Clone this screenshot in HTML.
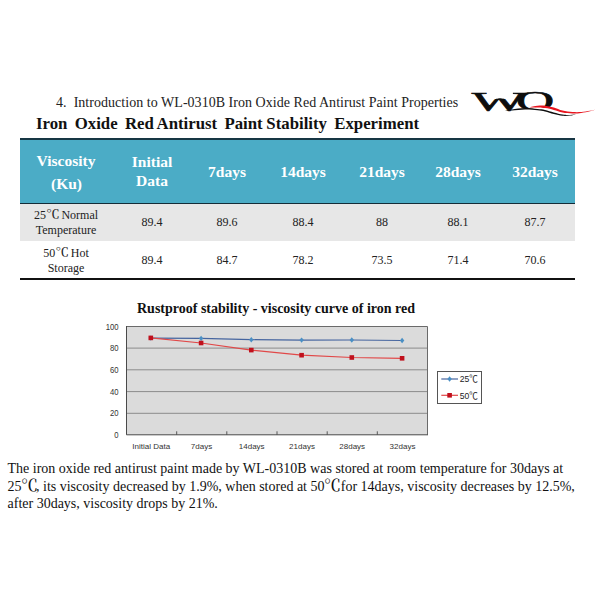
<!DOCTYPE html>
<html><head><meta charset="utf-8">
<style>
html,body{margin:0;padding:0;background:#fff;}
body{width:600px;height:600px;position:relative;overflow:hidden;font-family:"Liberation Serif","Noto Serif CJK SC",serif;color:#111;}
.abs{position:absolute;white-space:nowrap;}
.t1{left:56px;top:95px;font-size:14px;letter-spacing:0.035px;line-height:16px;color:#222;word-spacing:0px;}
.t2{left:36px;top:114px;font-size:16.8px;word-spacing:-0.54px;line-height:20px;font-weight:bold;color:#111;}
.tbl{position:absolute;left:20px;top:139px;width:555px;height:140px;}
.hdr{position:absolute;left:0;top:-0.6px;width:555px;height:65.6px;background:#4bacc6;border-top:2.5px solid #173644;border-bottom:1.8px solid #142c38;box-sizing:border-box;}
.r1{position:absolute;left:0;top:65px;width:555px;height:37px;background:#e7e7e7;}
.r2{position:absolute;left:0;top:102px;width:555px;height:37px;background:#fff;border-bottom:2px solid #111;box-sizing:content-box;}
.h{position:absolute;color:#fff;font-weight:bold;font-size:15.5px;line-height:20px;text-align:center;transform:translateX(-50%);white-space:nowrap;}
.c{position:absolute;color:#222;font-size:12px;line-height:15px;text-align:center;transform:translateX(-50%);white-space:nowrap;}
.dt{display:inline-block;width:13px;font-size:12.5px;line-height:15px;height:15px;vertical-align:baseline;font-weight:500;margin:0 0 0 -0.5px;transform:scaleX(1.08);transform-origin:0 50%;}
.dc{display:inline-block;font-size:16px;line-height:1px;width:15px;margin:0 0 0 -0.5px;transform:scaleX(1.06);transform-origin:0 50%;font-weight:500;}
.cap{left:7.5px;font-size:14px;line-height:17px;height:17px;color:#111;white-space:pre;}
</style></head><body>
<div class="abs t1">4.&nbsp; Introduction to WL-0310B Iron Oxide Red Antirust Paint Properties</div>
<div class="abs t2">Iron&nbsp; Oxide&nbsp; Red Antirust&nbsp; Paint Stability&nbsp; Experiment</div>

<!--LOGO--><svg class="abs" style="left:460px;top:80px" width="140" height="45" viewBox="460 80 140 45">
<defs>
<clipPath id="cw"><path clip-rule="evenodd" d="M460 80 H600 V125 H460Z M487.2 90.9 L487.2 100.2 L500.2 98.3 L514.0 100.2 L512.8 94.4 L512.8 90.9Z"/></clipPath>
<clipPath id="cq"><path d="M460 80 H600 V106.5 C570 106.5 545 107 532 107.5 C525 108 520 109 512 110.5 H460Z"/></clipPath>
</defs>
<g font-family="Liberation Serif, serif" fill="#0d0d0d" stroke="#0d0d0d" stroke-width="0.55">
<g clip-path="url(#cw)"><text font-size="26.5" transform="translate(471.8,110.8) scale(2.15,1)">W</text></g>
<g clip-path="url(#cq)"><text font-size="26.5" transform="translate(516,110.2) scale(2.0,1)">Q</text></g>
</g>
<path d="M505.0 111.0 C506.2 110.7 508.7 109.9 512.0 109.4 C515.3 108.9 520.8 108.2 525.0 108.1 C529.2 108.0 534.2 108.7 537.5 109.0 C540.8 109.3 542.3 109.3 545.0 109.9 C547.7 110.5 550.8 111.6 553.8 112.4 C556.7 113.2 560.1 114.1 562.5 114.5 C564.9 114.9 565.8 114.9 568.0 114.9 C570.2 114.9 574.7 114.5 576.0 114.4 L576.0 114.4 C575.0 114.6 572.2 115.4 570.0 115.6 C567.8 115.8 565.2 116.1 562.5 115.8 C559.8 115.5 556.7 114.7 553.8 114.0 C550.8 113.3 547.7 112.1 545.0 111.5 C542.3 110.9 540.8 110.6 537.5 110.3 C534.2 110.0 529.2 109.5 525.0 109.6 C520.8 109.6 515.3 110.4 512.0 110.6 C508.7 110.8 506.2 110.9 505.0 111.0 Z" fill="#0d0d0d"/>
<path d="M529.0 107.2 C530.4 107.0 534.8 106.0 537.5 105.8 C540.2 105.5 542.3 105.4 545.0 105.7 C547.7 106.0 550.8 106.6 553.8 107.4 C556.7 108.2 559.4 109.7 562.5 110.5 C565.6 111.3 569.4 111.8 572.5 112.0 C575.6 112.2 578.3 112.2 581.2 112.0 C584.2 111.8 587.5 111.2 590.0 110.8 C592.5 110.3 595.0 109.7 596.0 109.5 L596.0 109.5 C595.0 109.8 592.5 110.6 590.0 111.2 C587.5 111.8 584.2 112.5 581.2 112.9 C578.3 113.3 575.6 113.5 572.5 113.4 C569.4 113.3 565.6 113.1 562.5 112.5 C559.4 111.9 556.7 110.7 553.8 110.0 C550.8 109.3 548.5 108.5 545.0 108.1 C541.5 107.7 535.2 107.7 532.5 107.5 C529.8 107.3 529.6 107.2 529.0 107.2 Z" fill="#e8141e"/>
</svg><!--/LOGO-->

<div class="tbl">
 <div class="hdr"></div><div class="r1"></div><div class="r2"></div>
 <div class="h" style="left:46px;top:12px">Viscosity</div>
 <div class="h" style="left:46.5px;top:35px">(Ku)</div>
 <div class="h" style="left:132px;top:13px;line-height:19px">Initial<br>Data</div>
 <div class="h" style="left:207px;top:23px">7days</div>
 <div class="h" style="left:283px;top:23px">14days</div>
 <div class="h" style="left:362px;top:23px">21days</div>
 <div class="h" style="left:438px;top:23px">28days</div>
 <div class="h" style="left:515px;top:23px">32days</div>

 <div class="c" style="left:46px;top:69px">25<span class="dt">℃</span> Normal<br>Temperature</div>
 <div class="c" style="left:132px;top:76px">89.4</div>
 <div class="c" style="left:207px;top:76px">89.6</div>
 <div class="c" style="left:283px;top:76px">88.4</div>
 <div class="c" style="left:362px;top:76px">88</div>
 <div class="c" style="left:438px;top:76px">88.1</div>
 <div class="c" style="left:515px;top:76px">87.7</div>

 <div class="c" style="left:46px;top:107px">50<span class="dt">℃</span> Hot<br>Storage</div>
 <div class="c" style="left:132px;top:114px">89.4</div>
 <div class="c" style="left:207px;top:114px">84.7</div>
 <div class="c" style="left:283px;top:114px">78.2</div>
 <div class="c" style="left:362px;top:114px">73.5</div>
 <div class="c" style="left:438px;top:114px">71.4</div>
 <div class="c" style="left:515px;top:114px">70.6</div>
</div>

<!--CHART--><svg class="abs" style="left:0;top:290px" width="600" height="170" viewBox="0 290 600 170" font-family="Liberation Sans, sans-serif">
<rect x="126.5" y="326.5" width="301.0" height="108.3" fill="#dbdbdb"/>
<line x1="126.5" x2="427.5" y1="413.3" y2="413.3" stroke="#707070" stroke-width="0.75"/>
<line x1="126.5" x2="427.5" y1="391.6" y2="391.6" stroke="#707070" stroke-width="0.75"/>
<line x1="126.5" x2="427.5" y1="369.8" y2="369.8" stroke="#707070" stroke-width="0.75"/>
<line x1="126.5" x2="427.5" y1="348.1" y2="348.1" stroke="#707070" stroke-width="0.75"/>
<path d="M126.5 326.5 H427.5 V434.8" fill="none" stroke="#6a6a6a" stroke-width="1"/>
<path d="M126.5 326.0 V434.8 H428.0" fill="none" stroke="#4a4a4a" stroke-width="1"/>
<line x1="176.7" x2="176.7" y1="431.3" y2="434.8" stroke="#4a4a4a" stroke-width="0.9"/>
<line x1="226.8" x2="226.8" y1="431.3" y2="434.8" stroke="#4a4a4a" stroke-width="0.9"/>
<line x1="277.0" x2="277.0" y1="431.3" y2="434.8" stroke="#4a4a4a" stroke-width="0.9"/>
<line x1="327.2" x2="327.2" y1="431.3" y2="434.8" stroke="#4a4a4a" stroke-width="0.9"/>
<line x1="377.3" x2="377.3" y1="431.3" y2="434.8" stroke="#4a4a4a" stroke-width="0.9"/>
<polyline points="150.8,338.1 201.1,338.4 251.3,339.7 301.6,340.1 351.8,340.0 402.1,340.5" fill="none" stroke="#46659f" stroke-width="1.2"/>
<polyline points="150.8,337.9 201.1,343.0 251.3,350.1 301.6,355.2 351.8,357.5 402.1,358.3" fill="none" stroke="#e14848" stroke-width="1.2"/>
<path d="M150.8 335.4 l2.2 2.7 l-2.2 2.7 l-2.2 -2.7z" fill="#4a8fc4"/>
<path d="M201.1 335.7 l2.2 2.7 l-2.2 2.7 l-2.2 -2.7z" fill="#4a8fc4"/>
<path d="M251.3 337.0 l2.2 2.7 l-2.2 2.7 l-2.2 -2.7z" fill="#4a8fc4"/>
<path d="M301.6 337.4 l2.2 2.7 l-2.2 2.7 l-2.2 -2.7z" fill="#4a8fc4"/>
<path d="M351.8 337.3 l2.2 2.7 l-2.2 2.7 l-2.2 -2.7z" fill="#4a8fc4"/>
<path d="M402.1 337.8 l2.2 2.7 l-2.2 2.7 l-2.2 -2.7z" fill="#4a8fc4"/>
<rect x="148.5" y="335.6" width="4.6" height="4.6" fill="#c0101c"/>
<rect x="198.8" y="340.7" width="4.6" height="4.6" fill="#c0101c"/>
<rect x="249.0" y="347.8" width="4.6" height="4.6" fill="#c0101c"/>
<rect x="299.3" y="352.9" width="4.6" height="4.6" fill="#c0101c"/>
<rect x="349.5" y="355.2" width="4.6" height="4.6" fill="#c0101c"/>
<rect x="399.8" y="356.0" width="4.6" height="4.6" fill="#c0101c"/>
<text transform="translate(118.5,438.1) scale(0.94,1)" font-size="8.2" text-anchor="end" fill="#333">0</text>
<text transform="translate(118.5,416.4) scale(0.94,1)" font-size="8.2" text-anchor="end" fill="#333">20</text>
<text transform="translate(118.5,394.7) scale(0.94,1)" font-size="8.2" text-anchor="end" fill="#333">40</text>
<text transform="translate(118.5,372.9) scale(0.94,1)" font-size="8.2" text-anchor="end" fill="#333">60</text>
<text transform="translate(118.5,351.2) scale(0.94,1)" font-size="8.2" text-anchor="end" fill="#333">80</text>
<text transform="translate(118.5,329.5) scale(0.94,1)" font-size="8.2" text-anchor="end" fill="#333">100</text>
<text x="151.2" y="448.8" font-size="8" text-anchor="middle" fill="#333">Initial Data</text>
<text x="201.5" y="448.8" font-size="8" text-anchor="middle" fill="#333">7days</text>
<text x="251.7" y="448.8" font-size="8" text-anchor="middle" fill="#333">14days</text>
<text x="302.0" y="448.8" font-size="8" text-anchor="middle" fill="#333">21days</text>
<text x="352.2" y="448.8" font-size="8" text-anchor="middle" fill="#333">28days</text>
<text x="402.5" y="448.8" font-size="8" text-anchor="middle" fill="#333">32days</text>
<text x="137" y="313" font-family="Liberation Serif, serif" font-weight="bold" font-size="14" fill="#111">Rustproof stability - viscosity curve of iron red</text>
<rect x="437.5" y="371.5" width="44" height="32" fill="#fff" stroke="#555" stroke-width="1"/>
<line x1="441.3" x2="458" y1="379" y2="379" stroke="#46659f" stroke-width="1.2"/>
<path d="M449.6 376.3 l2.2 2.7 l-2.2 2.7 l-2.2 -2.7z" fill="#4a8fc4"/>
<line x1="441.3" x2="458" y1="395.3" y2="395.3" stroke="#e14848" stroke-width="1.2"/>
<rect x="447.3" y="393" width="4.6" height="4.6" fill="#c0101c"/>
<text x="459.7" y="382.4" font-size="8.6" fill="#222" font-family="Liberation Sans, Noto Sans CJK SC, sans-serif">25℃</text>
<text x="459.7" y="398.7" font-size="8.6" fill="#222" font-family="Liberation Sans, Noto Sans CJK SC, sans-serif">50℃</text>
</svg><!--/CHART-->
<div class="abs cap" style="top:460px">The iron oxide red antirust paint made by WL-0310B was stored at room temperature for 30days at</div>
<div class="abs cap" style="top:478px">25<span class="dc">℃</span>, its viscosity decreased by 1.9%, when stored at 50<span class="dc" style="margin-right:1.8px">℃</span>for 14days, viscosity decreases by 12.5%,</div>
<div class="abs cap" style="top:494.5px">after 30days, viscosity drops by 21%.</div>
</body></html>
